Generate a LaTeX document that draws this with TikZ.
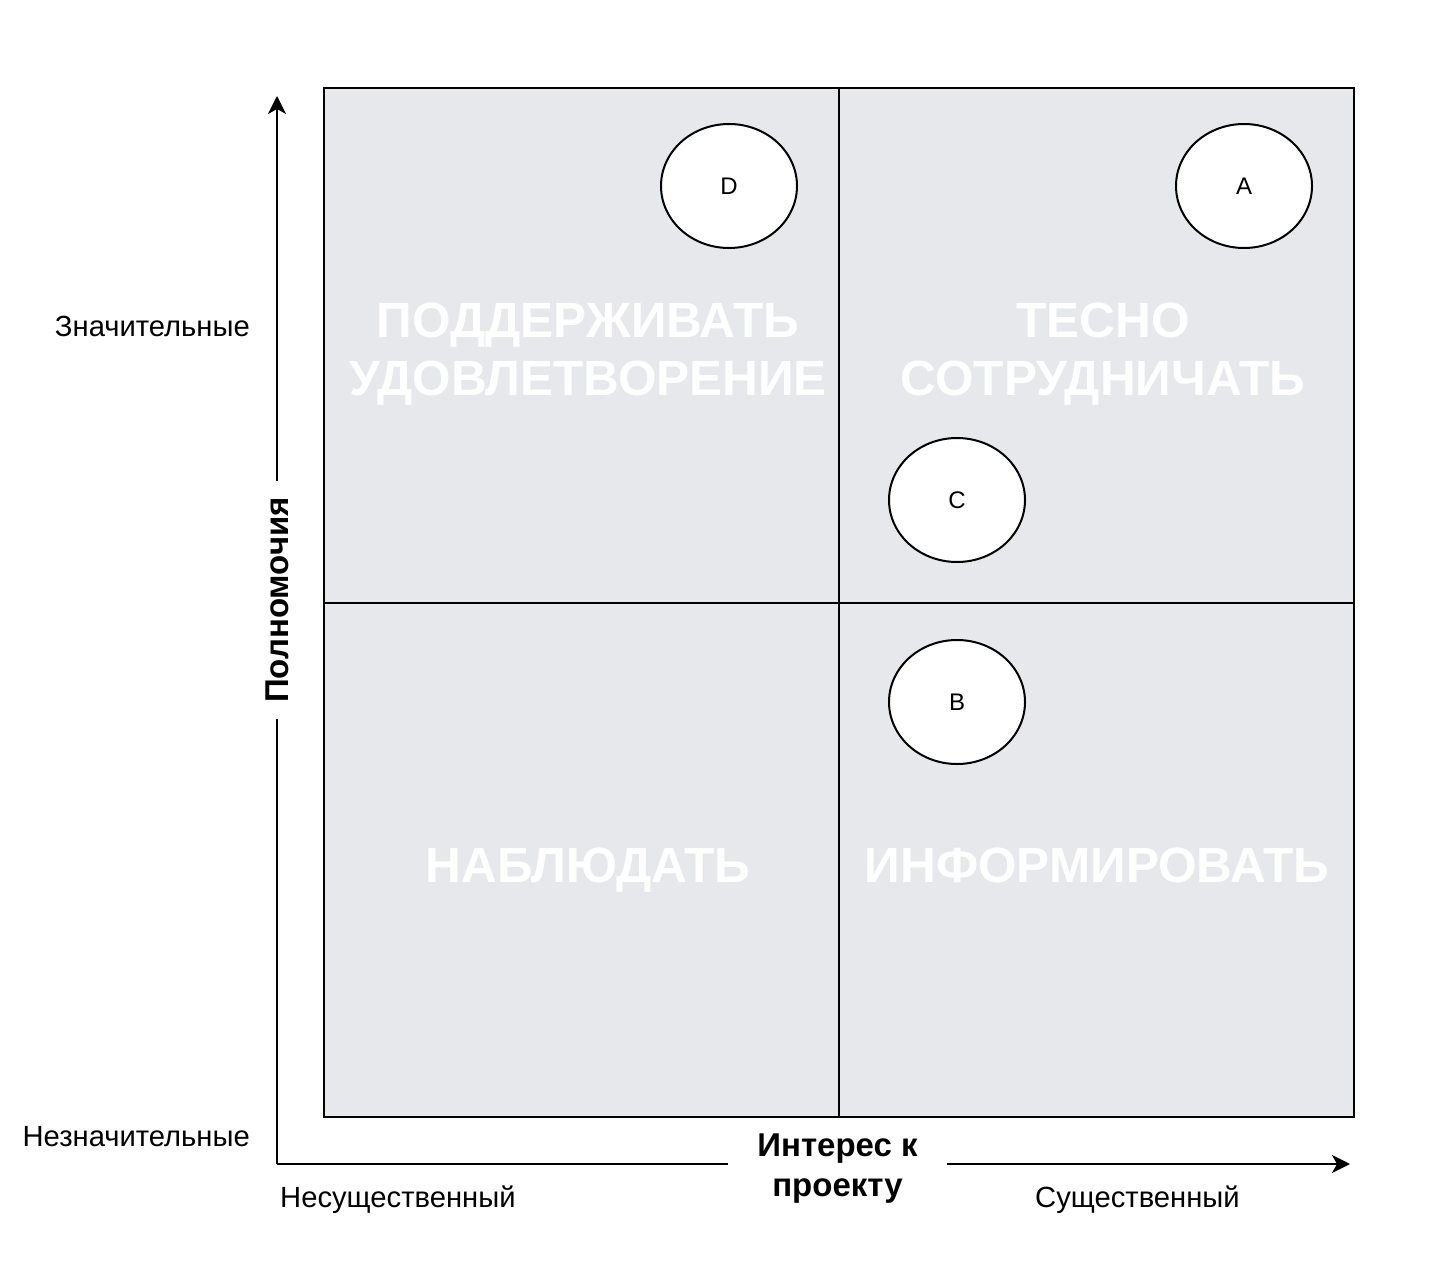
\documentclass[tikz,border=0pt]{standalone}
\usepackage{fontspec}
\setmainfont{Liberation Sans}
\usetikzlibrary{arrows.meta,shapes.geometric}
\definecolor{quadgray}{RGB}{230,232,235}
\begin{document}
\begin{tikzpicture}[x=1pt,y=-1pt,
  quad/.style={draw=black, line width=2pt, fill=quadgray, minimum width=515pt,
    minimum height=514.5pt, inner sep=0pt},
  qtext/.style={text=white, align=center, anchor=base, inner sep=0pt,
    font=\fontsize{49.5}{58}\selectfont\bfseries},
  ell/.style={ellipse, draw=black, line width=2pt, fill=white,
    minimum width=136pt, minimum height=124pt, inner sep=0pt,
    font=\fontsize{24}{28}\selectfont},
  lab/.style={font=\fontsize{29.2}{35}\selectfont, inner sep=0pt},
  axlab/.style={font=\fontsize{33}{40}\selectfont\bfseries, align=center, inner sep=0pt},
  axline/.style={line width=2pt},
  arr/.style={axline, -{Stealth[length=18pt,width=18pt,inset=5pt]}}]
\useasboundingbox (0,0) rectangle (1443,1284);
% quadrants
\node[quad] (q1) at (581.5,345.25) {};
\node[quad] (q2) at (1096.5,345.25) {};
\node[quad] (q3) at (581.5,859.75) {};
\node[quad] (q4) at (1096.5,859.75) {};
\node[qtext] (t1) at (588,395) {ПОДДЕРЖИВАТЬ\\УДОВЛЕТВОРЕНИЕ};
\node[qtext] (t2) at (1103,395) {ТЕСНО\\СОТРУДНИЧАТЬ};
\node[qtext] (t3) at (588,882) {НАБЛЮДАТЬ};
\node[qtext] (t4) at (1097,882) {ИНФОРМИРОВАТЬ};
% stakeholders
\node[ell] (D) at (729,186) {D};
\node[ell] (A) at (1244,186) {A};
\node[ell] (C) at (957,500) {C};
\node[ell] (B) at (957,702) {B};
% axes
\coordinate (o) at (277,1164);
\coordinate (ytop) at (277,96);
\coordinate (xend) at (1350,1164);
\node[axlab, rotate=90, minimum width=238pt] (ylab) at (277,600) {Полномочия};
\node[axlab, anchor=base, minimum width=219pt] (xlab) at (837.5,1196) {Интерес к\\проекту};
\draw[axline] (o) -- (ylab);
\draw[arr] (ylab) -- (ytop);
\draw[axline] (o) -- (xlab.west |- o);
\draw[arr] (xlab.east |- o) -- (xend);
% scale labels
\node[lab, anchor=base east] (hi) at (250,336) {Значительные};
\node[lab, anchor=base east] (lo) at (250,1146) {Незначительные};
\node[lab, anchor=base west] (lx) at (280,1207) {Несущественный};
\node[lab, anchor=base west] (hx) at (1035,1207) {Существенный};
\end{tikzpicture}
\end{document}
